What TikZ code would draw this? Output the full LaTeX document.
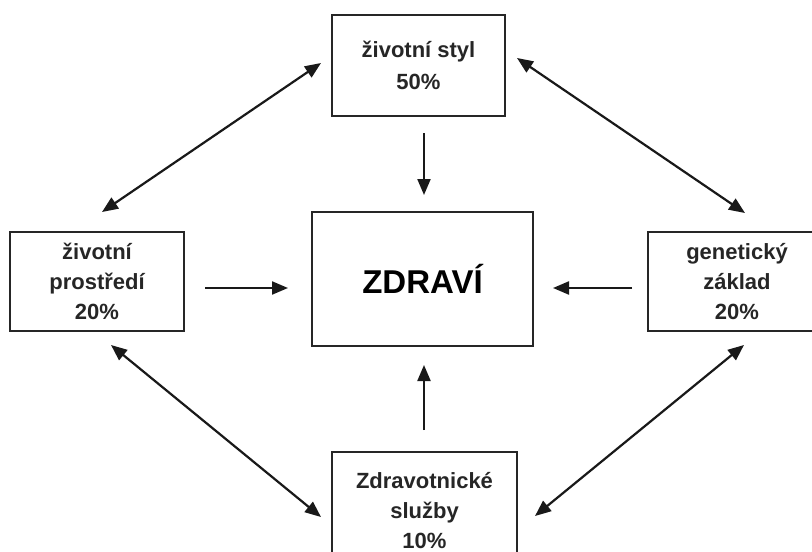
\documentclass[tikz,border=0pt]{standalone}
\usepackage{fontspec}
\setmainfont{Liberation Sans}
\usetikzlibrary{arrows.meta}
\begin{document}
\begin{tikzpicture}[x=1pt,y=-1pt,
  factorbox/.style={draw=black!85, line width=1.4pt, fill=white, align=center, inner sep=0pt,
    font=\fontsize{22}{30}\selectfont\bfseries, text=black!85},
  tip/.style={Triangle[length=16pt,width=13pt]},
  conn/.style={line width=2.2pt, draw=black!90, -{Triangle[length=16pt,width=13pt]}},
  dconn/.style={line width=2.2pt, draw=black!90, {Triangle[length=16pt,width=13pt]}-{Triangle[length=16pt,width=13pt]}}]
\useasboundingbox (0,0) rectangle (812,552);
\clip (0,0) rectangle (812,552);
\fill[white] (0,0) rectangle (812,552);
\node[factorbox, minimum width=173pt, minimum height=101pt, text depth=-4pt] (styl) at (418.5,65.5) {životní styl\\[2pt]50\%};
\node[factorbox, minimum width=174pt, minimum height=99pt] (prost) at (97,281.5) {životní\\prostředí\\20\%};
\node[factorbox, minimum width=221pt, minimum height=134pt, font=\fontsize{33}{38}\selectfont\bfseries, text=black] (zdravi) at (422.5,279) {ZDRAVÍ};
\node[factorbox, minimum width=178pt, minimum height=99pt] (gen) at (737,281.5) {genetický\\základ\\20\%};
\node[factorbox, minimum width=185pt, minimum height=118pt] (sluzby) at (424.5,511) {Zdravotnické\\služby\\10\%};
% free ends of connectors
\coordinate (a1) at (424,133); \coordinate (a2) at (424,195);
\coordinate (b1) at (205,288); \coordinate (b2) at (288,288);
\coordinate (c1) at (632,288); \coordinate (c2) at (553,288);
\coordinate (d1) at (424,430); \coordinate (d2) at (424,365);
\coordinate (e1) at (102,212); \coordinate (e2) at (321,63);
\coordinate (f1) at (517,58); \coordinate (f2) at (745,213);
\coordinate (g1) at (111,345); \coordinate (g2) at (321,517);
\coordinate (h1) at (535,516); \coordinate (h2) at (744,345);
\draw[conn] (a1) -- (a2);
\draw[conn] (b1) -- (b2);
\draw[conn] (c1) -- (c2);
\draw[conn] (d1) -- (d2);
\draw[dconn] (e1) -- (e2);
\draw[dconn] (f1) -- (f2);
\draw[dconn] (g1) -- (g2);
\draw[dconn] (h1) -- (h2);
\end{tikzpicture}
\end{document}
